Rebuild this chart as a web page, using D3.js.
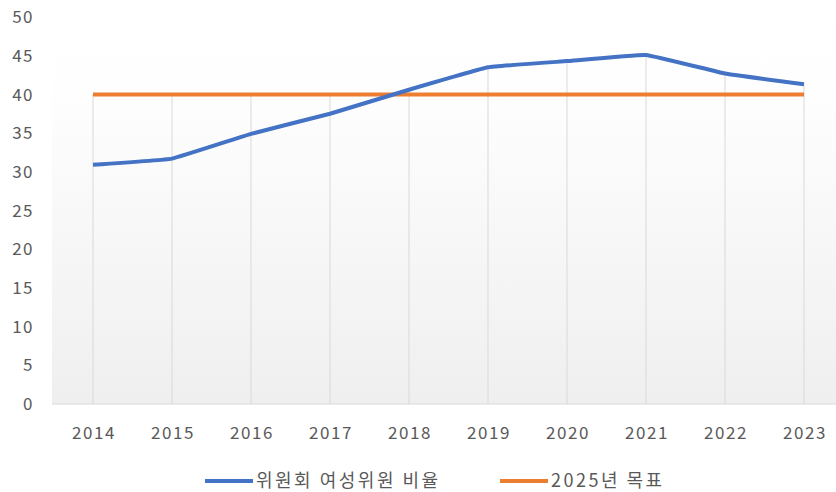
<!DOCTYPE html>
<html>
<head>
<meta charset="utf-8">
<script src="https://cdn.jsdelivr.net/npm/d3@7"></script>
<style>
    body { margin: 0; background: white; }
    text { font-family: "Noto Sans CJK KR", "Noto Sans", sans-serif; fill: #595959; }
</style>
</head>
<body>
<div id="chart"></div>
<script>
const years = ["2014", "2015", "2016", "2017", "2018", "2019", "2020", "2021", "2022", "2023"];
const womenRatio = [30.9, 31.7, 34.9, 37.5, 40.6, 43.5, 44.3, 45.1, 42.7, 41.3];
const target2025 = [40, 40, 40, 40, 40, 40, 40, 40, 40, 40];
const yTicks = [0, 5, 10, 15, 20, 25, 30, 35, 40, 45, 50];
const seriesNames = ["위원회 여성위원 비율", "2025년 목표"];

const width = 836, height = 492;
const margin = { top: 17, right: 0, bottom: 88, left: 52 };

const svg = d3.select("#chart").append("svg")
    .attr("width", width)
    .attr("height", height);

const defs = svg.append("defs");
const grad = defs.append("linearGradient")
    .attr("id", "bg")
    .attr("x1", 0).attr("y1", 0).attr("x2", 0).attr("y2", 1);
grad.append("stop").attr("offset", "0%").attr("stop-color", "#ffffff");
grad.append("stop").attr("offset", "20%").attr("stop-color", "#fefefe");
grad.append("stop").attr("offset", "100%").attr("stop-color", "#efefef");

const x = d3.scalePoint()
    .domain(years)
    .range([93, 804]);

const y = d3.scaleLinear()
    .domain([0, 50])
    .range([height - margin.bottom, margin.top]);

// plot background
svg.append("rect")
    .attr("x", margin.left)
    .attr("y", y(50))
    .attr("width", width - margin.left - margin.right)
    .attr("height", y(0) - y(50))
    .attr("fill", "url(#bg)");

// drop lines from the highest point of each category down to the axis
svg.append("g")
    .selectAll("line")
    .data(years)
    .enter()
    .append("line")
    .attr("x1", d => x(d)).attr("x2", d => x(d))
    .attr("y1", (d, i) => y(Math.max(womenRatio[i], target2025[i])))
    .attr("y2", y(0))
    .attr("stroke", "#d9d9d9")
    .attr("stroke-width", 1);

// bottom axis line
svg.append("line")
    .attr("x1", margin.left).attr("x2", width)
    .attr("y1", y(0)).attr("y2", y(0))
    .attr("stroke", "#d9d9d9")
    .attr("stroke-width", 1);

// y labels
svg.append("g")
    .selectAll("text")
    .data(yTicks)
    .enter()
    .append("text")
    .attr("x", 34)
    .attr("y", d => y(d))
    .attr("dy", "0.36em")
    .attr("text-anchor", "end")
    .style("font-size", "17px")
    .style("letter-spacing", "1.5px")
    .text(d => d);

// x labels
svg.append("g")
    .selectAll("text")
    .data(years)
    .enter()
    .append("text")
    .attr("x", d => x(d) + 1)
    .attr("y", 433)
    .attr("dy", "0.36em")
    .attr("text-anchor", "middle")
    .style("font-size", "17px")
    .style("letter-spacing", "1.6px")
    .text(d => d);

const line = d3.line()
    .x((d, i) => x(years[i]))
    .y(d => y(d));

svg.append("path")
    .datum(target2025)
    .attr("d", line)
    .attr("fill", "none")
    .attr("stroke", "#ED7D31")
    .attr("stroke-width", 4);

svg.append("path")
    .datum(womenRatio)
    .attr("d", line.curve(d3.curveCardinal.tension(0.75)))
    .attr("fill", "none")
    .attr("stroke", "#4472C4")
    .attr("stroke-width", 4)
    .attr("stroke-linejoin", "round");

// legend
const legendColors = ["#4472C4", "#ED7D31"];
const legendX = [205, 500];
const legend = svg.append("g")
    .selectAll("g")
    .data(seriesNames)
    .enter()
    .append("g")
    .attr("transform", (d, i) => `translate(${legendX[i]},481)`);

legend.append("line")
    .attr("x1", 0).attr("x2", 48)
    .attr("stroke", (d, i) => legendColors[i])
    .attr("stroke-width", 4);

legend.append("text")
    .attr("x", 51)
    .attr("dy", "0.36em")
    .style("font-size", "18px")
    .style("letter-spacing", "2.5px")
    .text(d => d);
</script>
</body>
</html>
